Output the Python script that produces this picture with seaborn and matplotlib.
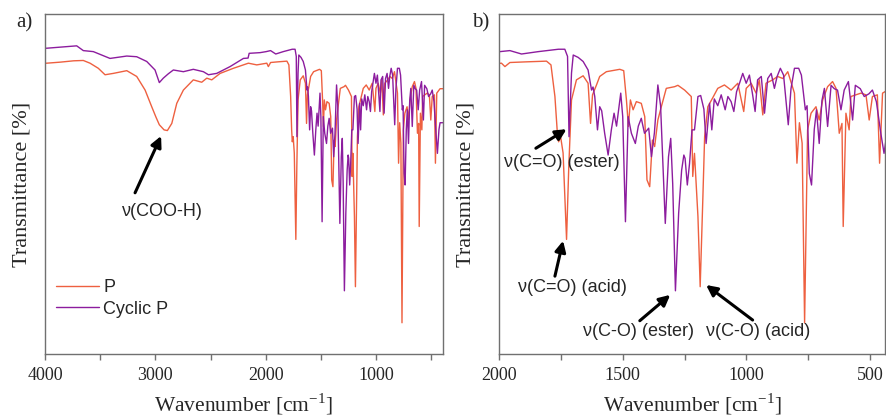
import numpy as np
import pandas as pd
import matplotlib
matplotlib.use("Agg")
import matplotlib.pyplot as plt
import seaborn as sns

# ── Spectra (wavenumber [cm-1], transmittance, arb. %)
p_wn = [4000, 3985, 3864, 3740, 3653, 3592, 3517, 3456, 3381, 3259, 3169, 3093,
        3033, 2994, 2964, 2921, 2891, 2851, 2806, 2746, 2656, 2580, 2534, 2489,
        2413, 2293, 2157, 2081, 1990, 1976, 1956, 1888, 1808, 1790, 1774, 1765,
        1759, 1751, 1741, 1727, 1718, 1707, 1687, 1660, 1640, 1630, 1622, 1606,
        1593, 1566, 1512, 1496, 1485, 1477, 1469, 1458, 1445, 1425, 1411, 1402,
        1391, 1380, 1371, 1358, 1344, 1324, 1290, 1277, 1250, 1223, 1217, 1210,
        1196, 1187, 1176, 1169, 1156, 1135, 1116, 1089, 1062, 1035, 1011, 1001,
        981, 961, 948, 934, 921, 894, 874, 853, 833, 806, 796, 786, 775, 765,
        753, 739, 719, 706, 692, 672, 652, 638, 625, 614, 609, 598, 585, 578,
        558, 537, 517, 504, 491, 471, 462, 450, 420, 395]
p_t = [85.5, 85.5, 85.8, 86.2, 86.3, 85.5, 84.0, 82.1, 82.5, 83.3, 81.6, 77.6,
       72.7, 69.6, 67.4, 65.9, 65.7, 67.8, 73.7, 77.6, 80.6, 79.9, 81.1, 80.6,
       82.5, 84.0, 85.5, 85.0, 85.5, 84.5, 85.7, 85.9, 86.1, 85.0, 75.7, 65.9,
       62.4, 63.9, 59.1, 33.7, 55.1, 74.7, 80.6, 81.8, 79.6, 67.8, 76.2, 79.1,
       81.6, 83.0, 83.7, 83.3, 74.7, 66.9, 74.7, 71.8, 74.2, 73.7, 69.8, 51.2,
       49.2, 62.9, 61.0, 68.8, 72.7, 78.1, 78.6, 79.0, 77.6, 75.7, 52.2, 59.0,
       40.4, 19.8, 46.3, 63.9, 72.7, 75.5, 78.1, 79.1, 77.6, 79.6, 71.3, 78.1,
       79.6, 76.7, 80.6, 70.3, 79.6, 80.6, 81.6, 81.0, 83.0, 76.7, 56.1, 68.0,
       62.0, 9.2, 65.9, 70.8, 72.7, 68.8, 74.7, 78.6, 80.1, 78.1, 64.9, 67.8,
       37.5, 70.8, 65.9, 75.7, 76.2, 76.7, 76.2, 68.8, 75.7, 76.2, 56.1, 76.7,
       78.0, 78.0]

cp_wn = [4000, 3985, 3713, 3653, 3562, 3411, 3259, 3169, 3078, 3003, 2964, 2928,
         2882, 2837, 2746, 2656, 2565, 2519, 2444, 2323, 2202, 2160, 2150, 2051,
         1996, 1956, 1909, 1841, 1760, 1734, 1723, 1717, 1707, 1700, 1680, 1660,
         1640, 1626, 1620, 1613, 1602, 1593, 1585, 1573, 1559, 1546, 1535, 1525,
         1508, 1500, 1489, 1478, 1465, 1449, 1437, 1425, 1412, 1395, 1384, 1372,
         1358, 1347, 1328, 1315, 1306, 1298, 1287, 1274, 1262, 1253, 1248, 1239,
         1230, 1220, 1210, 1196, 1185, 1172, 1163, 1149, 1140, 1130, 1116, 1102,
         1086, 1075, 1062, 1051, 1040, 1028, 1015, 1001, 988, 975, 965, 955,
         940, 927, 914, 900, 887, 876, 863, 850, 831, 820, 806, 789, 778, 762,
         755, 746, 737, 726, 717, 706, 695, 685, 672, 658, 645, 632, 618, 605,
         588, 571, 560, 540, 524, 505, 491, 475, 457, 444, 430, 420, 395]
cp_t = [89.9, 89.9, 90.6, 89.2, 88.9, 86.9, 87.6, 87.4, 86.0, 83.5, 79.8, 81.1,
        82.4, 83.5, 83.0, 83.7, 83.0, 82.1, 82.5, 84.5, 86.9, 87.0, 88.4, 88.6,
        88.9, 89.2, 88.2, 88.9, 89.6, 89.6, 87.5, 63.9, 82.6, 87.9, 87.2, 86.0,
        83.5, 77.6, 78.5, 75.7, 65.9, 72.7, 71.5, 64.9, 58.5, 65.9, 70.8, 67.0,
        76.7, 69.8, 38.9, 69.8, 64.9, 61.9, 67.0, 69.3, 64.9, 66.4, 58.0, 65.0,
        79.1, 73.0, 38.4, 58.0, 63.4, 50.0, 18.6, 41.4, 54.0, 58.5, 57.5, 49.7,
        56.0, 65.9, 65.9, 75.7, 76.0, 72.0, 61.9, 73.7, 65.9, 75.0, 73.0, 76.2,
        71.8, 75.7, 74.2, 71.3, 77.1, 79.6, 82.5, 79.6, 82.0, 76.2, 71.3, 80.6,
        81.6, 70.8, 81.0, 82.5, 78.1, 81.6, 84.0, 82.0, 67.4, 78.0, 84.0, 84.0,
        82.0, 71.8, 73.0, 53.1, 49.7, 66.0, 71.8, 61.9, 74.5, 78.1, 66.9, 79.0,
        78.0, 77.6, 71.8, 77.6, 80.1, 68.8, 79.0, 78.0, 75.7, 76.5, 77.6, 74.2,
        64.9, 59.0, 66.0, 68.0, 68.0]

series_names = ["P", "Cyclic P"]
colors = {"P": "#ee6040", "Cyclic P": "#8c1c9e"}

df = pd.concat([
    pd.DataFrame({"wn": p_wn, "T": p_t, "sample": "P"}),
    pd.DataFrame({"wn": cp_wn, "T": cp_t, "sample": "Cyclic P"}),
], ignore_index=True)

sns.set_style("ticks")
plt.rcParams["font.family"] = ["Liberation Serif", "DejaVu Serif"]
plt.rcParams["mathtext.fontset"] = "custom"
plt.rcParams["mathtext.rm"] = "Liberation Serif"
SANS = ["Liberation Sans", "DejaVu Sans"]
SPINE = "#707070"

fig = plt.figure(figsize=(8.86, 4.2), dpi=100)
ax_a = fig.add_axes([0.0508, 0.157, 0.449, 0.810])
ax_b = fig.add_axes([0.5632, 0.157, 0.4357, 0.810])

for ax in (ax_a, ax_b):
    sns.lineplot(data=df, x="wn", y="T", hue="sample", hue_order=series_names,
                 palette=colors, estimator=None, linewidth=1.0, legend=False, ax=ax)
    ax.set_ylim(0, 100)
    ax.set_yticks([])
    for s in ax.spines.values():
        s.set_visible(True)
        s.set_color(SPINE)
        s.set_linewidth(1.0)
    ax.tick_params(axis="x", which="both", direction="out", length=4,
                   width=1.0, color=SPINE, labelsize=13, pad=5)
    ax.set_xlabel(r"Wavenumber [cm$^{\mathregular{-1}}$]", fontsize=15.5, labelpad=6)

ax_a.set_xlim(4000, 395)
ax_a.set_xticks([4000, 3000, 2000, 1000])
ax_a.set_xticks(np.arange(3500, 300, -1000), minor=True)
ax_a.set_ylabel("Transmittance [%]", fontsize=16, labelpad=10)

ax_b.set_xlim(2000, 440)
ax_b.set_xticks([2000, 1500, 1000, 500])
ax_b.set_xticks([1750, 1250, 750], minor=True)
ax_b.set_ylabel("Transmittance [%]", fontsize=16, labelpad=17)

# legend
handles = [plt.Line2D([], [], color=colors[n], lw=1.0) for n in series_names]
ax_a.legend(handles, series_names, loc="upper left", bbox_to_anchor=(0.028, 0.22),
            frameon=False, borderpad=0, borderaxespad=0, handlelength=2.4,
            handletextpad=0.2, labelspacing=0.25, prop={"family": SANS, "size": 13})

arrow = dict(arrowstyle="-|>", color="black", lw=2.2, mutation_scale=16,
             shrinkA=0, shrinkB=0)

# (text, text pos, arrow tail, arrow tip)
ann_a = [("ν(COO-H)", (2939, 42.0), (3184, 47.4), (2948, 64.1))]
ann_b = [
    ("ν(C=O) (ester)", (1747, 56.4), (1851, 60.5), (1727, 66.1)),
    ("ν(C=O) (acid)", (1702, 19.6), (1774, 22.9), (1741, 33.3)),
    ("ν(C-O) (ester)", (1438, 6.6), (1431, 9.8), (1308, 17.4)),
    ("ν(C-O) (acid)", (954, 6.6), (975, 10.0), (1163, 20.3)),
]
for ax, anns in ((ax_a, ann_a), (ax_b, ann_b)):
    for label, tpos, tail, tip in anns:
        ax.annotate("", xy=tip, xytext=tail, arrowprops=arrow)
        ax.text(*tpos, label, ha="center", va="center", fontsize=13, family=SANS)

fig.text(0.028, 0.945, "a)", fontsize=15, ha="center", va="center")
fig.text(0.542, 0.945, "b)", fontsize=15, ha="center", va="center")

fig.savefig("out.png", dpi=100)
